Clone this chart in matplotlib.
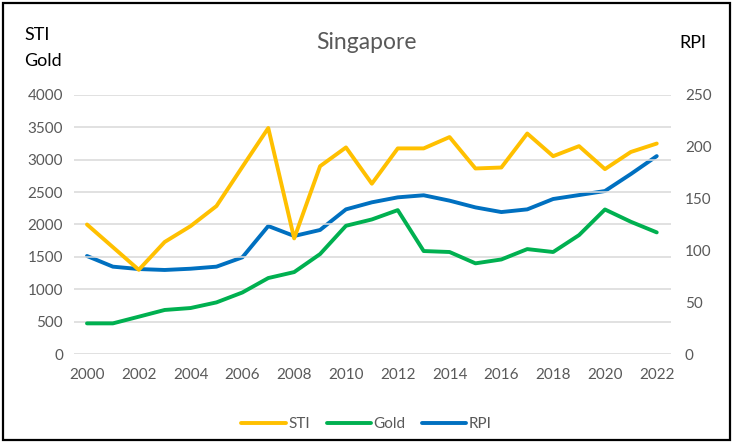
import matplotlib
matplotlib.use("Agg")
import matplotlib.pyplot as plt
from matplotlib.patches import Rectangle

plt.rcParams["font.family"] = ["Lato", "DejaVu Sans"]

years = list(range(2000, 2023))
sti = [2000, 1650, 1300, 1730, 1975, 2285, 2890, 3490, 1785, 2900, 3190, 2630,
       3175, 3175, 3350, 2865, 2880, 3405, 3055, 3210, 2855, 3120, 3250]
gold = [473, 473, 576, 680, 710, 797, 950, 1173, 1265, 1543, 1980, 2078,
        2222, 1590, 1575, 1400, 1460, 1620, 1575, 1836, 2232, 2042, 1878]
rpi = [94.6, 84.3, 82.0, 81.1, 82.3, 84.3, 93.3, 123.5, 113.9, 119.7, 139.6, 146.4,
       151.2, 153.2, 148.0, 141.5, 137.0, 139.6, 149.6, 153.4, 157.3, 173.7, 191.0]

C_STI = "#FFC000"
C_GOLD = "#00B050"
C_RPI = "#0070C0"
GREY = "#595959"

fig = plt.figure(figsize=(7.33, 4.43), dpi=100)
ax = fig.add_axes([0.101, 0.2009, 0.8144, 0.5847])
ax2 = ax.twinx()

l1, = ax.plot(years, sti, color=C_STI, lw=2.8, label="STI", solid_capstyle="round")
l2, = ax.plot(years, gold, color=C_GOLD, lw=2.8, label="Gold", solid_capstyle="round")
l3, = ax2.plot(years, rpi, color=C_RPI, lw=2.8, label="RPI", solid_capstyle="round")

ax.set_xlim(1999.5, 2022.55)
ax.set_ylim(0, 4000)
ax2.set_ylim(0, 250)
ax.set_yticks(range(0, 4001, 500))
ax2.set_yticks(range(0, 251, 50))
ax.set_xticks(years[::2])
ax.grid(axis="y", color="#d9d9d9", lw=1.1)
ax.set_axisbelow(True)
ax.set_zorder(ax2.get_zorder() + 1)
ax.patch.set_visible(False)

for a in (ax, ax2):
    for s in a.spines.values():
        s.set_visible(False)
    a.tick_params(length=0, labelsize=11, labelcolor=GREY)
ax.tick_params(axis="y", pad=8)
ax.tick_params(axis="x", pad=10)
ax2.tick_params(axis="y", pad=10)

fig.text(0.5, 0.903, "Singapore", ha="center", va="center", fontsize=16.5, color=GREY)
fig.text(0.033, 0.92, "STI", ha="left", va="center", fontsize=13, color="black")
fig.text(0.033, 0.862, "Gold", ha="left", va="center", fontsize=13, color="black")
fig.text(0.927, 0.903, "RPI", ha="left", va="center", fontsize=13, color="black")

fig.legend(handles=[l1, l2, l3], loc="center", bbox_to_anchor=(0.5, 0.043), ncol=3,
           frameon=False, fontsize=11, labelcolor=GREY, handlelength=2.9,
           handletextpad=0.15, columnspacing=1.1)

fig.patches.append(Rectangle((0.004, 0.006), 0.992, 0.988, transform=fig.transFigure,
                             fill=False, edgecolor="black", lw=1.6))

fig.savefig("out.png", dpi=100)
